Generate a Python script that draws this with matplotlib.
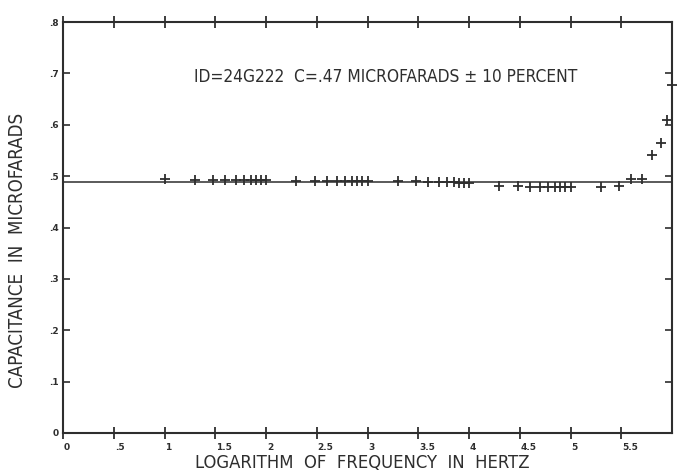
import matplotlib
matplotlib.use("Agg")
import matplotlib.pyplot as plt
import matplotlib.transforms as mtrans

# log10 of frequency in hertz, and measured capacitance in microfarads
log_freq = [1.00, 1.30, 1.48, 1.60, 1.70, 1.78, 1.85, 1.90, 1.95, 2.00,
            2.30, 2.48, 2.60, 2.70, 2.78, 2.85, 2.90, 2.95, 3.00,
            3.30, 3.48, 3.60, 3.70, 3.78, 3.85, 3.90, 3.95, 4.00,
            4.30, 4.48, 4.60, 4.70, 4.78, 4.85, 4.90, 4.95, 5.00,
            5.30, 5.48, 5.60, 5.70, 5.80, 5.89, 5.95, 6.00]
capacitance = [0.494, 0.493, 0.493, 0.493, 0.493, 0.493, 0.493, 0.493, 0.493, 0.493,
               0.491, 0.491, 0.491, 0.491, 0.491, 0.491, 0.491, 0.491, 0.491,
               0.490, 0.490, 0.489, 0.489, 0.488, 0.488, 0.487, 0.487, 0.487,
               0.481, 0.481, 0.479, 0.478, 0.478, 0.478, 0.478, 0.478, 0.479,
               0.479, 0.481, 0.494, 0.494, 0.541, 0.564, 0.609, 0.677]
ref_level = 0.489

x_ticks = [0, 0.5, 1, 1.5, 2, 2.5, 3, 3.5, 4, 4.5, 5, 5.5]
x_labels = ["0", ".5", "1", "1.5", "2", "2.5", "3", "3.5", "4", "4.5", "5", "5.5"]
y_ticks = [0, 0.1, 0.2, 0.3, 0.4, 0.5, 0.6, 0.7, 0.8]
y_labels = ["0", ".1", ".2", ".3", ".4", ".5", ".6", ".7", ".8"]

ink = "#2e2e2e"
font = dict(family="DejaVu Sans", stretch="condensed", color=ink)

fig = plt.figure(figsize=(6.88, 4.75), dpi=100)
ax = fig.add_axes([63/688, 42/475, 609/688, 411/475])

ax.axhline(ref_level, color=ink, lw=1.1)
ax.plot(log_freq, capacitance, ls="none", marker="+", ms=7, mew=1.3, color=ink,
        clip_on=False, zorder=5)

ax.set_xlim(0, 6)
ax.set_ylim(0, 0.8)
for s in ax.spines.values():
    s.set_color(ink)
    s.set_linewidth(1.5)

ax.set_xticks(x_ticks)
ax.set_xticklabels(x_labels)
ax.set_yticks(y_ticks)
ax.set_yticklabels(y_labels)
ax.tick_params(axis="x", which="both", direction="inout", length=9, width=1.3,
               color=ink, top=True, labelsize=6.5, labelcolor=ink, pad=3)
ax.tick_params(axis="y", which="both", direction="in", length=5, width=1.2,
               color=ink, right=True, labelsize=6.5, labelcolor=ink, pad=3)
shift = mtrans.ScaledTranslation(1/100, 0, fig.dpi_scale_trans)
for lab in ax.get_xticklabels():
    lab.set_ha("left")
    lab.set_fontweight("bold")
    lab.set_transform(lab.get_transform() + shift)
for lab in ax.get_yticklabels():
    lab.set_fontweight("bold")

ax.text(0.215, 0.865, "ID=24G222  C=.47 MICROFARADS \u00b1 10 PERCENT",
        transform=ax.transAxes, fontsize=12.4, ha="left", va="center", **font)
fig.text(362/688, 1 - 463/475, "LOGARITHM  OF  FREQUENCY  IN  HERTZ",
         fontsize=13.2, ha="center", va="center", **font)
fig.text(18/688, 1 - 250/475, "CAPACITANCE  IN  MICROFARADS",
         fontsize=13.4, ha="center", va="center", rotation=90, **font)

fig.savefig("out.png", dpi=100, facecolor="white")
